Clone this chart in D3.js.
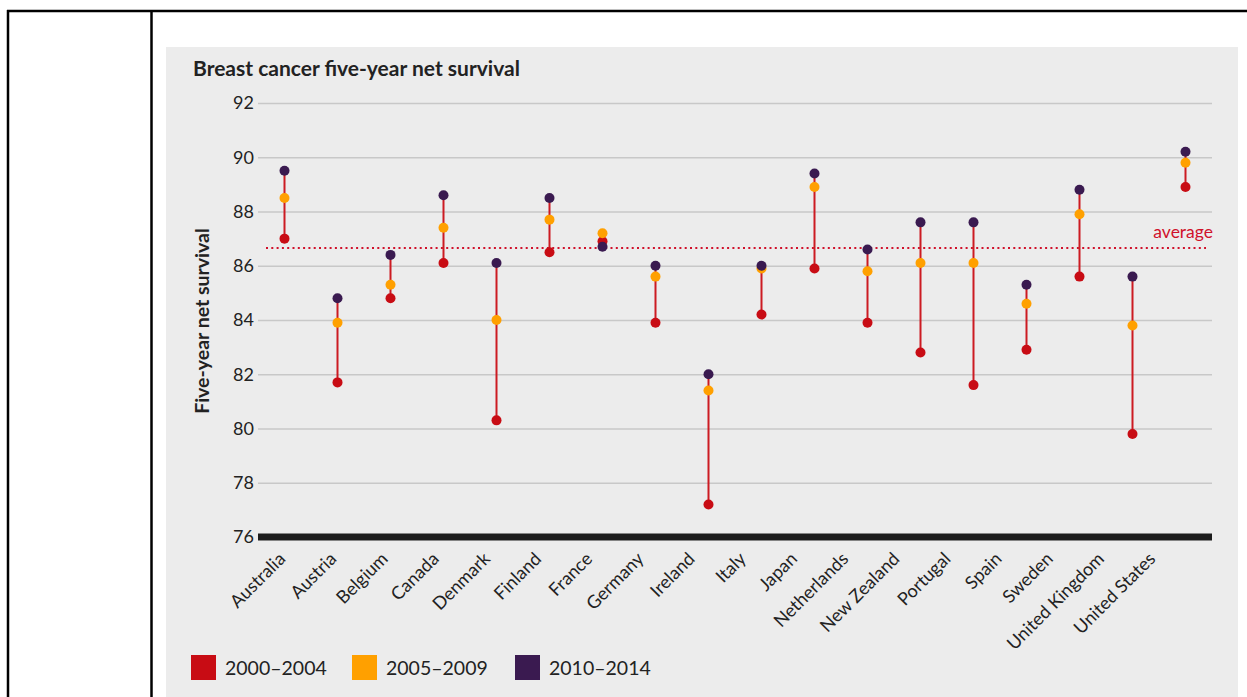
<!DOCTYPE html>
<html>
<head>
<meta charset="utf-8">
<script src="https://cdn.jsdelivr.net/npm/d3@7"></script>
<style>
  html, body { margin: 0; padding: 0; background: #fff; }
  svg { display: block; }
  text { font-family: Lato, "Open Sans", sans-serif; }
</style>
</head>
<body>
<svg id="chart" width="1247" height="697"></svg>
<script>
// ---- data ----
const countries = ["Australia","Austria","Belgium","Canada","Denmark","Finland","France","Germany","Ireland","Italy","Japan","Netherlands","New Zealand","Portugal","Spain","Sweden","United Kingdom","United States"];
const p2000 = [87.0, 81.7, 84.8, 86.1, 80.3, 86.5, 86.9, 83.9, 77.2, 84.2, 85.9, 83.9, 82.8, 81.6, 82.9, 85.6, 79.8, 88.9];
const p2005 = [88.5, 83.9, 85.3, 87.4, 84.0, 87.7, 87.2, 85.6, 81.4, 85.9, 88.9, 85.8, 86.1, 86.1, 84.6, 87.9, 83.8, 89.8];
const p2010 = [89.5, 84.8, 86.4, 88.6, 86.1, 88.5, 86.7, 86.0, 82.0, 86.0, 89.4, 86.6, 87.6, 87.6, 85.3, 88.8, 85.6, 90.2];
const averageValue = 86.65;
const yTicks = [76, 78, 80, 82, 84, 86, 88, 90, 92];
const periods = ["2000–2004", "2005–2009", "2010–2014"];
const periodColors = ["#c80c14", "#ffa000", "#3a1a50"];
const titleText = "Breast cancer five-year net survival";
const yTitle = "Five-year net survival";

const svg = d3.select("#chart");

// frame
svg.append("line").attr("x1", 7).attr("x2", 1247).attr("y1", 11).attr("y2", 11)
  .attr("stroke", "#000").attr("stroke-width", 2.5);
svg.append("line").attr("x1", 8).attr("x2", 8).attr("y1", 10).attr("y2", 697)
  .attr("stroke", "#000").attr("stroke-width", 2.5);
svg.append("line").attr("x1", 151.5).attr("x2", 151.5).attr("y1", 10).attr("y2", 697)
  .attr("stroke", "#000").attr("stroke-width", 2.5);

// panel
svg.append("rect").attr("x", 166).attr("y", 47).attr("width", 1072).attr("height", 660)
  .attr("fill", "#ececec");

const x = d3.scaleBand().domain(countries).range([258, 1212]).padding(0);
const y = d3.scaleLinear().domain([76, 92]).range([537, 103]);
const labelScale = d3.scalePoint().domain(countries).range([286, 1156]);

// title
svg.append("text").attr("x", 193).attr("y", 76).attr("font-size", 21).attr("font-weight", 700)
  .attr("fill", "#222").text(titleText);

// y axis + grid
const yAxis = svg.append("g").attr("transform", "translate(258,0)")
  .call(d3.axisLeft(y).tickValues(yTicks).tickFormat(d3.format("d")).tickSize(-954).tickPadding(4));
yAxis.select(".domain").remove();
yAxis.selectAll(".tick line").attr("stroke", "#c8c8c8").attr("stroke-width", 1.5);
yAxis.selectAll(".tick text").attr("font-size", 18).attr("fill", "#222")
  .style("font-family", "Lato, sans-serif");

// y title
svg.append("text").attr("transform", "translate(209,321) rotate(-90)")
  .attr("text-anchor", "middle").attr("font-size", 19.5).attr("font-weight", 700).attr("fill", "#222")
  .text(yTitle);

// baseline
svg.append("line").attr("x1", 258).attr("x2", 1212).attr("y1", y(76)).attr("y2", y(76))
  .attr("stroke", "#1c1c1c").attr("stroke-width", 7);

// x labels
const xAxis = svg.append("g").attr("transform", "translate(0,560)")
  .call(d3.axisBottom(labelScale).tickSize(0).tickPadding(0));
xAxis.select(".domain").remove();
xAxis.selectAll(".tick text")
  .attr("y", 0).attr("dy", 0)
  .attr("text-anchor", "end")
  .attr("transform", "rotate(-45)")
  .attr("font-size", 18).attr("fill", "#222")
  .style("font-family", "Lato, sans-serif");

// average line
svg.append("line").attr("x1", 266).attr("x2", 1206).attr("y1", y(averageValue)).attr("y2", y(averageValue))
  .attr("stroke", "#d0112b").attr("stroke-width", 2).attr("stroke-dasharray", "2,3.3");
svg.append("text").attr("x", 1213).attr("y", y(averageValue) - 10.5).attr("text-anchor", "end")
  .attr("font-size", 17.5).attr("fill", "#d0112b").text("average");

// stems
const rows = countries.map((c, i) => ({c, v: [p2000[i], p2005[i], p2010[i]]}));
svg.append("g").selectAll("line").data(rows).join("line")
  .attr("x1", d => x(d.c) + x.bandwidth() / 2).attr("x2", d => x(d.c) + x.bandwidth() / 2)
  .attr("y1", d => y(d3.min(d.v))).attr("y2", d => y(d3.max(d.v)))
  .attr("stroke", "#cc1b22").attr("stroke-width", 2);

// dots
const series = [p2000, p2005, p2010];
series.forEach((s, k) => {
  svg.append("g").selectAll("circle").data(s).join("circle")
    .attr("cx", (d, i) => x(countries[i]) + x.bandwidth() / 2)
    .attr("cy", d => y(d))
    .attr("r", 5)
    .attr("fill", periodColors[k]);
});

// legend
const legendX = [191, 352, 515];
const lg = svg.append("g");
periods.forEach((p, k) => {
  lg.append("rect").attr("x", legendX[k]).attr("y", 655).attr("width", 25).attr("height", 25)
    .attr("fill", periodColors[k]);
  lg.append("text").attr("x", legendX[k] + 34).attr("y", 675).attr("font-size", 19.5)
    .attr("fill", "#222").text(p);
});
</script>
</body>
</html>
